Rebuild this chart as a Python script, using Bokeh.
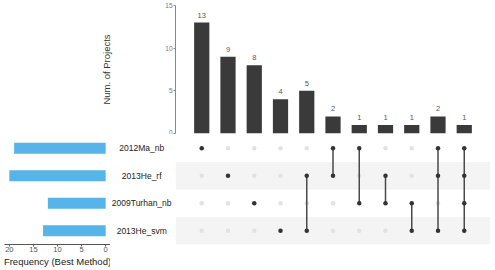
from bokeh.plotting import figure
from bokeh.layouts import column, row
from bokeh.models import Range1d, ColumnDataSource, FixedTicker
from bokeh.core.properties import value
from bokeh.embed import file_html
from bokeh.resources import INLINE

# ---- data ----
set_names = ["2012Ma_nb", "2013He_rf", "2009Turhan_nb", "2013He_svm"]
set_sizes = [19, 20, 12, 13]
inter_counts = [13, 9, 8, 4, 5, 2, 1, 1, 1, 2, 1]
# membership per intersection column, order follows set_names
membership = [
    [1, 0, 0, 0],
    [0, 1, 0, 0],
    [0, 0, 1, 0],
    [0, 0, 0, 1],
    [0, 1, 0, 1],
    [1, 1, 0, 0],
    [1, 0, 1, 0],
    [0, 1, 1, 0],
    [0, 0, 1, 1],
    [1, 1, 0, 1],
    [1, 1, 1, 1],
]
top_ticks = [0, 5, 10, 15]
left_ticks = [0, 5, 10, 15, 20]

FONT = "Liberation Sans"
BAR_DARK = "#3a3a3a"
BLUE = "#56B4E9"

n_cols = len(inter_counts)
n_sets = len(set_names)
col_x = list(range(1, n_cols + 1))
row_y = [n_sets - i for i in range(n_sets)]  # top row highest

x_rng = Range1d(0, n_cols + 1)
y_rng = Range1d(0.5, n_sets + 0.5)

def clean(p):
    p.outline_line_color = None
    p.xgrid.visible = False
    p.ygrid.visible = False
    p.background_fill_color = "white"
    p.border_fill_color = "white"

# ---- top: intersection sizes ----
top = figure(width=495, height=134, x_range=x_rng, y_range=Range1d(0, 15),
             output_backend="svg", toolbar_location=None,
             min_border_left=175, min_border_right=5, min_border_top=5, min_border_bottom=1)
clean(top)
top.xaxis.visible = False
src_top = ColumnDataSource(dict(x=col_x, y=inter_counts, t=[str(v) for v in inter_counts]))
top.vbar(x="x", top="y", bottom=0, width=0.58, source=src_top, fill_color=BAR_DARK, line_color=None)
top.text(x="x", y="y", text="t", source=src_top, text_align="center", text_baseline="bottom",
         y_offset=-5, text_font=value(FONT), text_font_size="7.5px", text_color="#555555")
ya = top.yaxis[0]
ya.ticker = FixedTicker(ticks=top_ticks)
ya.minor_tick_line_color = None
ya.major_tick_in = 0
ya.major_tick_out = 2
ya.major_label_standoff = 1
ya.axis_line_color = "#888888"
ya.major_tick_line_color = "#888888"
ya.major_label_text_font = FONT
ya.major_label_text_font_size = "6.5px"
ya.major_label_text_color = "#777777"
ya.axis_label = "Num. of Projects"
ya.axis_label_text_font = FONT
ya.axis_label_text_font_style = "normal"
ya.axis_label_text_font_size = "9.5px"
ya.axis_label_text_color = "#333333"
ya.axis_label_standoff = 50

# ---- left: set sizes ----
left = figure(width=110, height=136, x_range=Range1d(21, -1), y_range=y_rng,
              output_backend="svg", toolbar_location=None,
              min_border_left=4, min_border_right=0, min_border_top=0, min_border_bottom=26)
clean(left)
left.yaxis.visible = False
src_left = ColumnDataSource(dict(y=row_y, v=set_sizes))
left.hbar(y="y", right="v", left=0, height=0.4, source=src_left, fill_color=BLUE, line_color=None)
xa = left.xaxis[0]
xa.ticker = FixedTicker(ticks=left_ticks)
xa.minor_tick_line_color = None
xa.major_tick_in = 0
xa.major_tick_out = 2
xa.major_label_standoff = 0
xa.axis_line_color = "#555555"
xa.major_tick_line_color = "#555555"
xa.major_label_text_font = FONT
xa.major_label_text_font_size = "7.5px"
xa.major_label_text_color = "#555555"
xa.axis_label = "Frequency (Best Method)"
xa.axis_label_text_font = FONT
xa.axis_label_text_font_style = "normal"
xa.axis_label_text_font_size = "9.5px"
xa.axis_label_text_color = "#222222"
xa.axis_label_standoff = 1

# ---- labels ----
lab = figure(width=65, height=136, x_range=Range1d(0, 1), y_range=y_rng,
             output_backend="svg", toolbar_location=None,
             min_border_left=0, min_border_right=0, min_border_top=0, min_border_bottom=26)
clean(lab)
lab.xaxis.visible = False
lab.yaxis.visible = False
lab.text(x=[0.48] * n_sets, y=row_y, text=set_names, text_align="center", text_baseline="middle",
         text_font=value(FONT), text_font_size="8.5px", text_color="#222222")

# ---- matrix ----
mat = figure(width=320, height=136, x_range=x_rng, y_range=y_rng,
             output_backend="svg", toolbar_location=None,
             min_border_left=0, min_border_right=5, min_border_top=0, min_border_bottom=26)
clean(mat)
mat.xaxis.visible = False
mat.yaxis.visible = False
band_y = [row_y[i] for i in range(n_sets) if i % 2 == 1]
mat.quad(left=0, right=n_cols + 1, bottom=[y - 0.5 for y in band_y], top=[y + 0.5 for y in band_y],
         fill_color="#f4f4f4", line_color=None)
gx, gy, ax_, ay_ = [], [], [], []
sx0, sy0, sy1 = [], [], []
for ci, memb in enumerate(membership):
    ys = []
    for si, m in enumerate(memb):
        if m:
            ax_.append(col_x[ci]); ay_.append(row_y[si]); ys.append(row_y[si])
        else:
            gx.append(col_x[ci]); gy.append(row_y[si])
    if len(ys) > 1:
        sx0.append(col_x[ci]); sy0.append(min(ys)); sy1.append(max(ys))
mat.scatter(x=gx, y=gy, size=4.5, fill_color="#e2e2e2", line_color=None)
mat.segment(x0=sx0, y0=sy0, x1=sx0, y1=sy1, line_color="#4a4a4a", line_width=1.5)
mat.scatter(x=ax_, y=ay_, size=4.5, fill_color="#333333", line_color=None)

root = column(top, row(left, lab, mat, spacing=0), spacing=0)

open("out.html", "w").write(file_html(root, INLINE))
